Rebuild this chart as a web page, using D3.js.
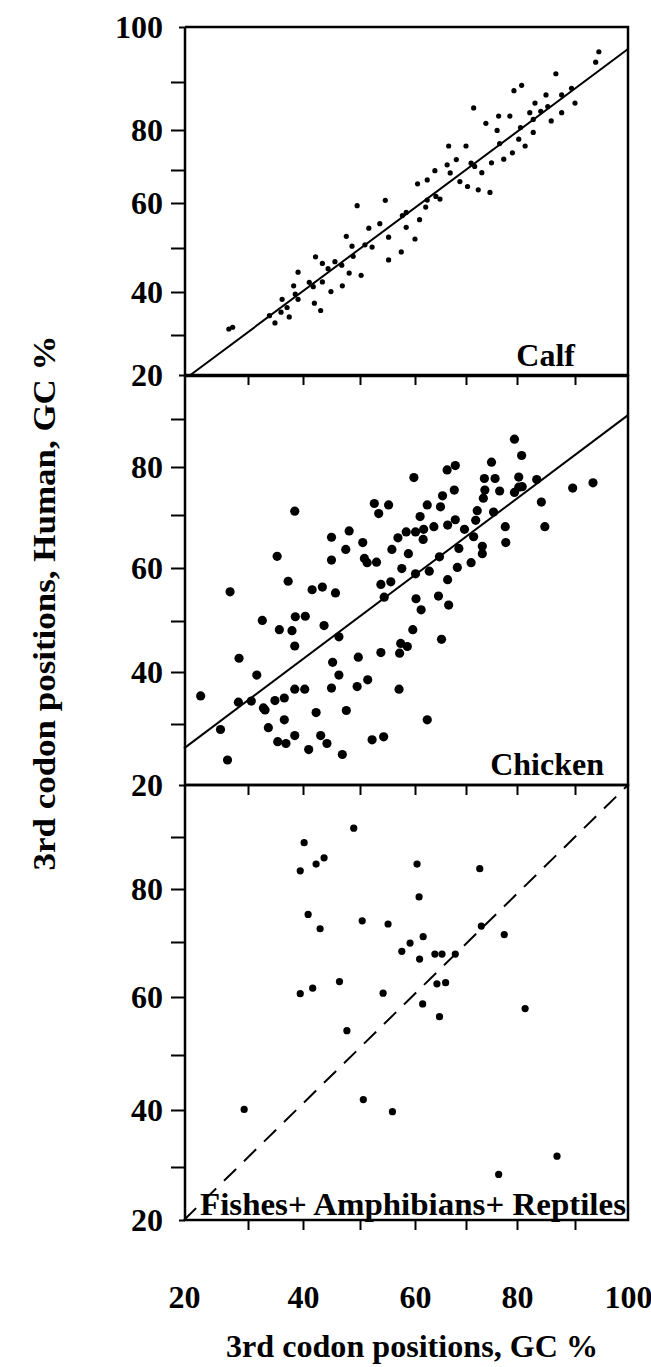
<!DOCTYPE html>
<html>
<head>
<meta charset="utf-8">
<script src="https://cdn.jsdelivr.net/npm/d3@7"></script>
<style>
  html, body { margin: 0; padding: 0; background: #fff; }
  svg { display: block; }
</style>
</head>
<body>
<div id="chart"></div>
<script>
// Valeurs de la grille (les deux axes vont de 20 à 100 par pas de 10)
const gridValues = [20, 30, 40, 50, 60, 70, 80, 90, 100];
const xTickLabels = [20, 40, 60, 80, 100];
const yTickLabels = [20, 40, 60, 80];
const panelNames = ["Calf", "Chicken", "Fishes+ Amphibians+ Reptiles"];

// [GC3 autre espèce, GC3 humain]
const calfPoints = [
  [27.0, 31.4], [27.6, 31.8], [33.9, 34.5], [34.9, 32.8], [36.2, 38.3], [36.0, 35.3], [37.5, 34.2],
  [37.1, 36.4], [38.3, 41.4], [39.1, 38.3], [39.1, 44.5], [41.8, 41.2], [42.2, 48.0], [42.0, 37.4],
  [43.1, 35.7], [43.4, 42.3], [43.4, 46.5], [44.9, 40.1], [45.6, 46.9], [46.9, 41.4], [46.8, 46.1],
  [47.6, 52.6], [48.1, 44.3], [48.6, 50.4], [49.5, 59.4], [50.2, 43.8], [48.8, 48.1], [51.6, 54.4],
  [52.2, 50.2], [53.6, 55.4], [54.6, 60.8], [55.2, 52.4], [55.2, 47.3], [57.5, 49.1], [57.7, 57.2],
  [58.4, 54.6], [60.0, 52.0], [60.5, 65.8], [60.9, 56.3], [62.4, 67.0], [62.1, 59.1], [63.9, 69.8],
  [64.1, 62.0], [64.9, 61.2], [66.6, 76.0], [66.3, 71.3], [66.9, 69.1], [68.1, 72.6], [68.8, 66.5],
  [70.3, 65.0], [70.0, 76.0], [71.0, 71.7], [71.5, 84.6], [72.4, 64.0], [73.1, 69.2], [73.9, 81.4],
  [74.7, 63.2], [75.0, 71.8], [76.4, 82.9], [77.4, 72.7], [76.6, 76.6], [79.1, 74.3], [78.6, 82.9],
  [79.4, 88.2], [80.8, 89.3], [80.3, 77.7], [81.4, 76.0], [80.6, 80.5], [82.8, 79.4], [83.1, 85.6],
  [82.8, 82.2], [84.1, 83.9], [85.0, 87.3], [85.9, 81.9], [86.7, 91.5], [87.7, 83.6], [87.7, 87.3],
  [89.4, 88.7], [90.0, 85.6], [93.9, 93.6], [94.5, 95.5], [71.7, 70.9], [76.1, 79.9], [82.2, 83.6],
  [62.4, 60.9], [58.4, 57.9], [38.6, 39.5], [44.4, 45.3], [50.9, 50.7], [41.1, 42.2], [85.3, 84.9]
];

const chickenPoints = [
  [22.6, 35.4], [27.2, 55.5], [25.7, 29.1], [26.8, 24.1], [28.6, 42.7], [28.5, 34.2], [30.6, 34.4],
  [31.6, 39.4], [32.6, 50.1], [32.8, 33.1], [33.1, 32.7], [33.7, 29.4], [34.9, 34.5], [35.3, 62.2],
  [35.7, 48.3], [35.4, 27.1], [36.6, 35.0], [36.6, 30.8], [36.9, 26.8], [37.3, 57.5], [38.0, 48.1],
  [38.5, 45.1], [38.5, 36.7], [38.5, 28.1], [38.5, 70.8], [38.6, 50.8], [40.4, 50.9], [40.3, 36.7],
  [41.0, 25.8], [41.6, 55.9], [42.3, 32.2], [43.1, 28.1], [43.4, 56.4], [43.7, 49.1], [44.2, 26.8],
  [45.0, 65.8], [45.0, 61.5], [45.2, 41.9], [45.0, 36.9], [45.7, 55.3], [46.3, 46.9], [46.3, 39.4],
  [46.9, 25.0], [47.5, 63.5], [48.1, 67.0], [47.6, 32.6], [49.5, 37.2], [49.7, 42.9], [50.5, 64.8],
  [50.8, 61.8], [51.3, 61.0], [51.4, 38.5], [52.2, 27.4], [52.6, 72.4], [53.4, 70.3], [53.0, 61.1],
  [53.8, 43.8], [53.8, 56.9], [54.3, 27.9], [54.4, 54.5], [55.2, 72.1], [55.6, 57.4], [55.8, 63.5],
  [56.9, 65.7], [57.1, 36.7], [57.6, 59.9], [57.4, 45.6], [57.2, 43.7], [58.6, 45.0], [58.4, 66.8],
  [58.8, 62.7], [59.6, 48.3], [59.8, 77.8], [60.1, 66.8], [60.1, 58.9], [60.2, 54.2], [61.2, 52.1],
  [61.0, 69.7], [61.6, 65.4], [61.7, 67.3], [62.4, 72.1], [62.4, 30.8], [62.8, 59.4], [63.7, 67.8],
  [64.6, 54.7], [64.8, 62.1], [65.2, 46.4], [65.0, 71.7], [65.4, 74.0], [66.3, 79.4], [66.4, 57.8],
  [66.6, 53.0], [66.4, 68.1], [67.7, 75.2], [67.9, 80.3], [67.9, 69.1], [68.3, 60.1], [68.6, 63.7],
  [69.7, 67.3], [71.0, 61.0], [71.5, 65.9], [72.2, 70.9], [71.9, 69.0], [73.2, 62.7], [73.2, 64.1],
  [73.4, 73.5], [73.7, 75.2], [73.6, 77.6], [75.0, 81.0], [75.4, 70.6], [75.7, 77.6], [76.6, 75.0],
  [77.7, 67.8], [77.8, 64.8], [79.5, 85.8], [79.5, 74.7], [80.3, 77.9], [80.8, 82.4], [80.3, 75.8],
  [80.9, 75.9], [83.4, 77.4], [84.2, 72.7], [84.8, 67.8], [89.6, 75.6], [93.4, 76.7]
];

const fishPoints = [
  [48.9, 91.7], [40.2, 88.9], [39.5, 83.5], [42.3, 84.8], [43.7, 86.0], [60.4, 84.8], [72.7, 83.9],
  [60.8, 78.5], [40.9, 75.2], [43.0, 72.5], [50.4, 74.0], [55.1, 73.4], [73.0, 73.0], [77.5, 71.4],
  [61.6, 71.0], [59.1, 69.8], [57.6, 68.3], [60.9, 66.9], [63.9, 67.8], [65.3, 67.8], [67.9, 67.8],
  [64.3, 62.4], [66.0, 62.6], [46.4, 62.8], [41.7, 61.6], [39.5, 60.6], [54.2, 60.7], [61.5, 58.8],
  [81.4, 58.0], [64.8, 56.6], [47.7, 54.2], [29.4, 40.1], [50.6, 41.9], [55.9, 39.7], [76.4, 28.6],
  [86.9, 31.9]
];

// Droites tracées dans chaque panneau
const calfFit = [[21, 20], [100, 96]];
const chickenFit = [[20, 26], [100, 90.9]];
const diagonal = [[20, 20], [100, 100]];

const width = 651, height = 1367;
const font = "'Liberation Serif', 'Times New Roman', serif";
const left = 185, right = 628;

// La figure scannée n'a pas une grille régulière : les échelles suivent les graduations imprimées
const x = d3.scaleLinear().domain(gridValues).range([184, 248, 303, 360, 415, 466, 517, 575, 628]);

const panels = [
  { name: panelNames[0], points: calfPoints, r: 2.6, fit: calfFit, dashed: false,
    yRange: [375, 335, 292, 248, 203, 170, 130, 82, 27], labels: [...yTickLabels, 100],
    labelX: 575, labelY: 366 },
  { name: panelNames[1], points: chickenPoints, r: 4.6, fit: chickenFit, dashed: false,
    yRange: [785, 724, 672, 621, 568, 515, 467, 419, 376], labels: yTickLabels,
    labelX: 604, labelY: 775 },
  { name: panelNames[2], points: fishPoints, r: 3.6, fit: diagonal, dashed: true,
    yRange: [1220, 1167, 1110, 1055, 997, 942, 889, 837, 785], labels: yTickLabels,
    labelX: 626, labelY: 1215, labelLength: 426 }
];

const svg = d3.select("#chart")
  .append("svg")
  .attr("width", width)
  .attr("height", height)
  .attr("viewBox", `0 0 ${width} ${height}`);

svg.append("rect").attr("width", width).attr("height", height).attr("fill", "#fff");

panels.forEach((p, i) => {
  const y = d3.scaleLinear().domain(gridValues).range(p.yRange);
  const g = svg.append("g");

  // Axe Y : graduations tous les 10, étiquettes tous les 20
  g.append("g")
    .attr("transform", `translate(${left},0)`)
    .call(
      d3.axisLeft(y)
        .tickValues(gridValues.filter(v => v > 20 && v < 100).concat(p.labels.filter(v => v === 20 || v === 100)))
        .tickSize(14)
        .tickPadding(8)
        .tickFormat(d => p.labels.includes(d) ? d : "")
    )
    .call(ax => ax.select(".domain").remove())
    .call(ax => ax.selectAll("line")
      .attr("stroke", "#000")
      .attr("stroke-width", 2)
      .attr("x2", d => (d === 20 || d === 100) ? -6 : -14))
    .selectAll("text")
    .attr("fill", "#000")
    .attr("font-family", font)
    .attr("font-weight", "bold")
    .attr("font-size", "32px");

  // Graduations X sous le bord inférieur
  g.append("g")
    .attr("transform", `translate(0,${y(20)})`)
    .call(
      d3.axisBottom(x)
        .tickValues(gridValues.filter(v => v > 20 && v < 100))
        .tickSize(10)
        .tickFormat("")
    )
    .call(ax => ax.select(".domain").remove())
    .selectAll("line")
    .attr("stroke", "#000")
    .attr("stroke-width", 2);

  // Cadre
  const frame = [[left, y(100)], [right, y(100)], [right, y(20)], [left, y(20)], [left, y(100)]];
  g.append("path")
    .attr("d", d3.line()(frame))
    .attr("fill", "none")
    .attr("stroke", "#000")
    .attr("stroke-width", 2.5);

  // Points
  g.selectAll(".dot")
    .data(p.points)
    .enter().append("circle")
    .attr("class", "dot")
    .attr("cx", d => x(d[0]))
    .attr("cy", d => y(d[1]))
    .attr("r", p.r)
    .attr("fill", "#000");

  // Droite de régression ou diagonale
  g.append("path")
    .attr("d", d3.line().x(d => x(d[0])).y(d => y(d[1]))(p.fit))
    .attr("fill", "none")
    .attr("stroke", "#000")
    .attr("stroke-width", 2)
    .attr("stroke-dasharray", p.dashed ? "17,11" : null);

  // Nom du panneau
  const label = g.append("text")
    .attr("x", p.labelX)
    .attr("y", p.labelY)
    .attr("text-anchor", "end")
    .attr("font-family", font)
    .attr("font-weight", "bold")
    .attr("font-size", "32px")
    .attr("fill", "#000")
    .text(p.name);
  if (p.labelLength) {
    label.attr("textLength", p.labelLength).attr("lengthAdjust", "spacingAndGlyphs");
  }

  // Étiquettes X sous le dernier panneau
  if (i === panels.length - 1) {
    g.append("g")
      .attr("transform", `translate(0,${y(20)})`)
      .call(d3.axisBottom(x).tickValues(xTickLabels).tickSize(0).tickPadding(65))
      .call(ax => ax.select(".domain").remove())
      .selectAll("text")
      .attr("fill", "#000")
      .attr("font-family", font)
      .attr("font-weight", "bold")
      .attr("font-size", "32px");
  }
});

// Titres des axes
svg.append("text")
  .attr("x", 412)
  .attr("y", 1357)
  .attr("text-anchor", "middle")
  .attr("font-family", font)
  .attr("font-weight", "bold")
  .attr("font-size", "32px")
  .attr("textLength", 372)
  .attr("lengthAdjust", "spacingAndGlyphs")
  .text("3rd codon positions, GC %");

svg.append("text")
  .attr("transform", "translate(55,603) rotate(-90)")
  .attr("text-anchor", "middle")
  .attr("font-family", font)
  .attr("font-weight", "bold")
  .attr("font-size", "32px")
  .attr("textLength", 535)
  .attr("lengthAdjust", "spacingAndGlyphs")
  .text("3rd codon positions, Human, GC %");
</script>
</body>
</html>
